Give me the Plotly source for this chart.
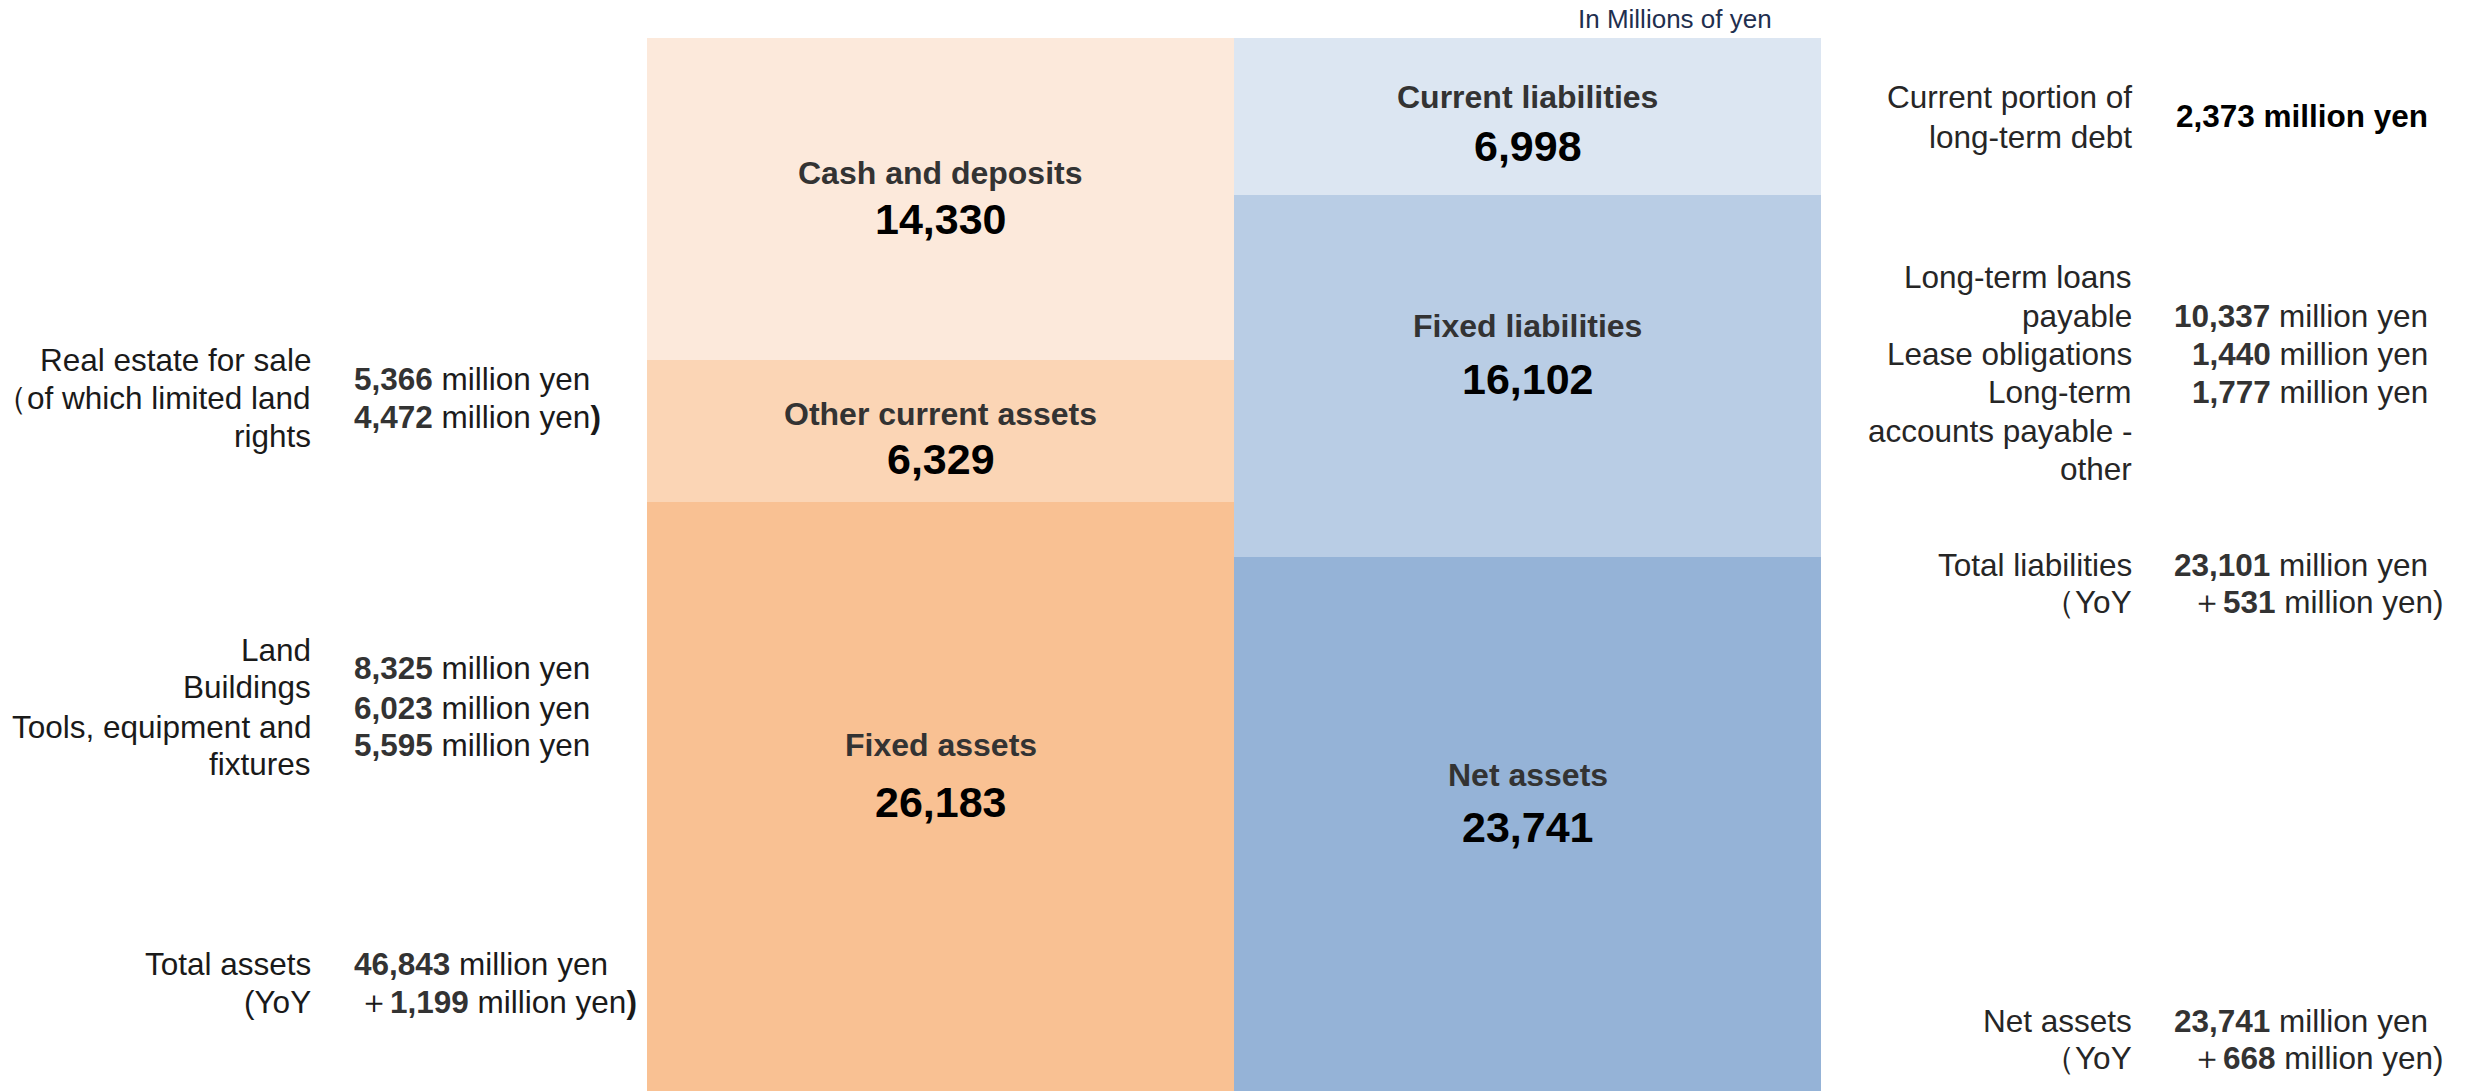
import plotly.graph_objects as go

# ---- data ----
sides = ["Assets", "Liabilities and net assets"]
asset_names = ["Cash and deposits", "Other current assets", "Fixed assets"]
asset_values = [14330, 6329, 26183]
liab_names = ["Current liabilities", "Fixed liabilities", "Net assets"]
liab_values = [6998, 16102, 23741]
total_assets = 46843

asset_colors = ["#FCE9DB", "#FBD5B5", "#F9C193"]
liab_colors = ["#DCE6F2", "#B9CDE5", "#95B3D7"]

W, H = 2466, 1091
L, R, T, B = 647, 1821, 38, 1091

FONT = "Liberation Sans, Arial, Helvetica, sans-serif"
SIDE = 31.5

fig = go.Figure()
for name, val, col in zip(asset_names, asset_values, asset_colors):
    fig.add_trace(go.Bar(x=[sides[0]], y=[val], name=name, marker=dict(color=col, line=dict(width=0)),
                         hoverinfo="name+y"))
for name, val, col in zip(liab_names, liab_values, liab_colors):
    fig.add_trace(go.Bar(x=[sides[1]], y=[val], name=name, marker=dict(color=col, line=dict(width=0)),
                         hoverinfo="name+y"))


def px(p):
    return (p - L) / (R - L)


def py(p):
    return 1 - (p - T) / (B - T)


ann = []


def add(text, x, y, anchor="center", size=SIDE, color="#1a1a1a", bold=False):
    if bold:
        text = "<b>" + text + "</b>"
    ann.append(dict(text=text, x=px(x), y=py(y), xref="paper", yref="paper",
                    xanchor=anchor, yanchor="middle", showarrow=False,
                    font=dict(family=FONT, size=size, color=color)))


# labels inside the blocks
cx_a = (L + (L + R) / 2) / 2
cx_l = ((L + R) / 2 + R) / 2
inner = [
    (cx_a, 173, 219, asset_names[0], asset_values[0]),
    (cx_a, 414, 459, asset_names[1], asset_values[1]),
    (cx_a, 745, 802, asset_names[2], asset_values[2]),
    (cx_l, 97, 146, liab_names[0], liab_values[0]),
    (cx_l, 326, 379, liab_names[1], liab_values[1]),
    (cx_l, 775, 827, liab_names[2], liab_values[2]),
]
for x, y1, y2, nm, v in inner:
    add(nm, x, y1, size=32, color="#333333", bold=True)
    add(f"{v:,}", x, y2, size=43, color="#000000", bold=True)

add("In Millions of yen", 1774, 19, anchor="right", size=26, color="#1F2F4F")

N = "#333333"  # bold number colour


def num(s):
    return f"<b><span style='color:{N}'>{s}</span></b>"


# left side
LX, LV = 313, 352
for t, y in [("Real estate for sale", 360), ("（of which limited land", 398), ("rights", 436)]:
    add(t, LX, y, anchor="right")
add(num("5,366") + " million yen", LV, 379, anchor="left")
add(num("4,472") + " million yen<b>)</b>", LV, 417, anchor="left")

for t, y in [("Land", 650), ("Buildings", 687), ("Tools, equipment and", 727), ("fixtures", 764)]:
    add(t, LX, y, anchor="right")
add(num("8,325") + " million yen", LV, 668, anchor="left")
add(num("6,023") + " million yen", LV, 708, anchor="left")
add(num("5,595") + " million yen", LV, 745, anchor="left")

add("Total assets", LX, 964, anchor="right")
add("(YoY", LX, 1002, anchor="right")
add(num(f"{total_assets:,}") + " million yen", LV, 964, anchor="left")
add("＋" + num("1,199") + " million yen<b>)</b>", LV + 4, 1002, anchor="left")

# right side
RX, RV, RV2 = 2134, 2430, 2446
RC = "#262626"
add("Current portion of", RX, 97, anchor="right", color=RC)
add("long-term debt", RX, 137, anchor="right", color=RC)
add("<b>2,373 million yen</b>", RV, 116, anchor="right", color="#000000")

for t, y in [("Long-term loans", 277), ("payable", 316), ("Lease obligations", 354),
             ("Long-term", 392), ("accounts payable -", 431), ("other", 469)]:
    add(t, RX, y, anchor="right", color=RC)
add(num("10,337") + " million yen", RV, 316, anchor="right", color=RC)
add(num("1,440") + " million yen", RV, 354, anchor="right", color=RC)
add(num("1,777") + " million yen", RV, 392, anchor="right", color=RC)

add("Total liabilities", RX, 565, anchor="right", color=RC)
add("（YoY", RX, 602, anchor="right", color=RC)
add(num("23,101") + " million yen", RV, 565, anchor="right", color=RC)
add("＋" + num("531") + " million yen)", RV2, 602, anchor="right", color=RC)

add("Net assets", RX, 1021, anchor="right", color=RC)
add("（YoY", RX, 1058, anchor="right", color=RC)
add(num("23,741") + " million yen", RV, 1021, anchor="right", color=RC)
add("＋" + num("668") + " million yen)", RV2, 1058, anchor="right", color=RC)

fig.update_layout(
    width=W, height=H,
    margin=dict(l=L, r=W - R, t=T, b=H - B, pad=0),
    barmode="stack", bargap=0,
    showlegend=False,
    paper_bgcolor="white", plot_bgcolor="white",
    xaxis=dict(visible=False, range=[-0.5, 1.5]),
    yaxis=dict(visible=False, range=[total_assets, 0]),
    annotations=ann,
    font=dict(family=FONT),
)
fig.write_html("out.html", config={"displayModeBar": False})
